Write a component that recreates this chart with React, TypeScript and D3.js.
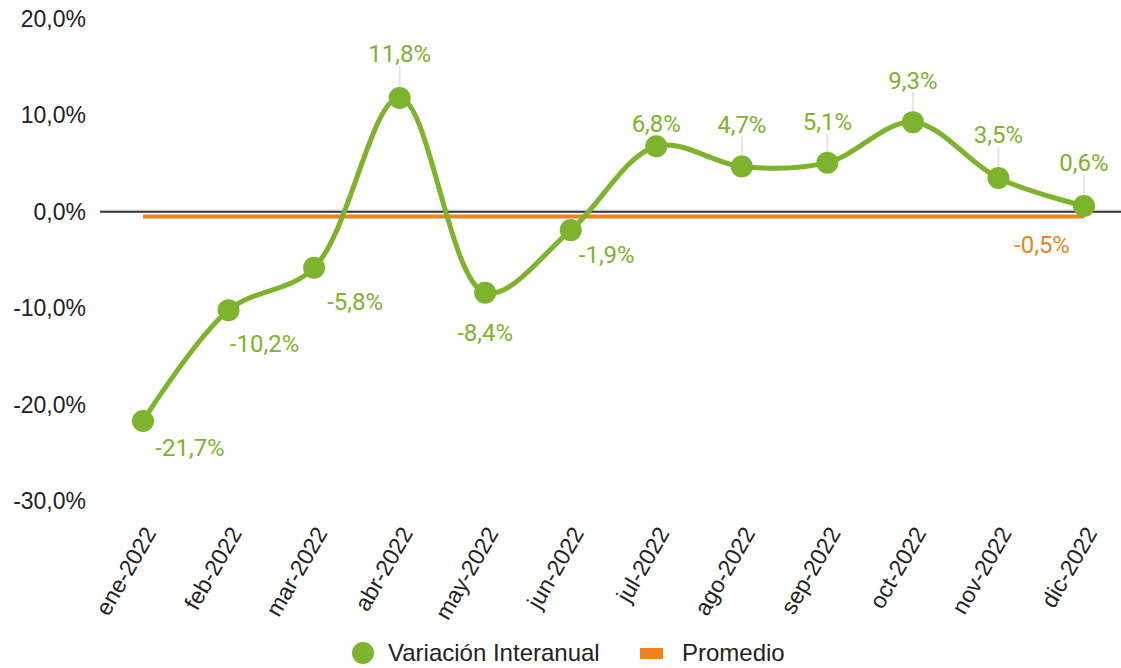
import { useEffect, useRef } from "react";
import * as d3 from "d3";

const months = [
  "ene-2022", "feb-2022", "mar-2022", "abr-2022", "may-2022", "jun-2022",
  "jul-2022", "ago-2022", "sep-2022", "oct-2022", "nov-2022", "dic-2022",
];
const variacion = [-21.7, -10.2, -5.8, 11.8, -8.4, -1.9, 6.8, 4.7, 5.1, 9.3, 3.5, 0.6];
const promedio = -0.5;
const yTicks = [20, 10, 0, -10, -20, -30];

// label nudges (px) for each point's value label
const labelDx = [47, 36, 41, 0, 0, 36, 0, 0, 0, 0, 0, 0];
const labelDy = [27, 33, 34, -44, 40, 24, -23, -42, -41, -42, -43, -43];

const GREEN = "#7db32d";
const ORANGE = "#f0821e";
const fmt = (v: number) => v.toFixed(1).replace(".", ",") + "%";

const App = () => {
  const ref = useRef<SVGSVGElement | null>(null);

  useEffect(() => {
    const width = 1121;
    const height = 668;
    const svg = d3.select(ref.current);
    svg.selectAll("*").remove();
    svg.attr("width", width).attr("height", height);

    const x = d3.scalePoint<string>().domain(months).range([143, 1084]);
    const y = d3.scaleLinear().domain([-30, 20]).range([501, 19]);

    const axisFont = "'Liberation Sans', Arial, sans-serif";
    const labelFont = "Roboto, sans-serif";

    const pts = variacion.map((v, i) => ({ v, i, m: months[i] }));

    // y axis labels
    svg.append("g")
      .selectAll("text")
      .data(yTicks)
      .join("text")
      .attr("x", 86)
      .attr("y", (d) => y(d))
      .attr("dy", "0.35em")
      .attr("text-anchor", "end")
      .attr("font-family", axisFont)
      .attr("font-size", 23)
      .attr("fill", "#222")
      .text((d) => fmt(d));

    // zero line
    svg.append("line")
      .attr("x1", 100).attr("x2", width)
      .attr("y1", y(0) - 2).attr("y2", y(0) - 2)
      .attr("stroke", "#e6e6e6").attr("stroke-width", 1);
    svg.append("line")
      .attr("x1", 100).attr("x2", width)
      .attr("y1", y(0)).attr("y2", y(0))
      .attr("stroke", "#333").attr("stroke-width", 2);

    // average line
    svg.append("line")
      .attr("x1", x(months[0])!).attr("x2", x(months[months.length - 1])!)
      .attr("y1", y(promedio)).attr("y2", y(promedio))
      .attr("stroke", ORANGE).attr("stroke-width", 4);

    // x labels
    svg.append("g")
      .selectAll("text")
      .data(months)
      .join("text")
      .attr("transform", (d) => `translate(${x(d)! + 14},533) rotate(-60)`)
      .attr("text-anchor", "end")
      .attr("font-family", axisFont)
      .attr("font-size", 23)
      .attr("fill", "#222")
      .text((d) => d);

    // leader lines (labels placed well above their point)
    svg.append("g")
      .selectAll("line")
      .data(pts.filter((p) => labelDy[p.i] < -30))
      .join("line")
      .attr("x1", (p) => x(p.m)!)
      .attr("x2", (p) => x(p.m)!)
      .attr("y1", (p) => y(p.v) + labelDy[p.i] + 12)
      .attr("y2", (p) => y(p.v))
      .attr("stroke", "#e6e6e6")
      .attr("stroke-width", 2);

    // line
    const line = d3.line<{ v: number; m: string }>()
      .x((p) => x(p.m)!)
      .y((p) => y(p.v))
      .curve(d3.curveCatmullRom.alpha(0.5));
    svg.append("path")
      .datum(pts)
      .attr("d", line)
      .attr("fill", "none")
      .attr("stroke", GREEN)
      .attr("stroke-width", 5);

    // points
    svg.append("g")
      .selectAll("circle")
      .data(pts)
      .join("circle")
      .attr("cx", (p) => x(p.m)!)
      .attr("cy", (p) => y(p.v))
      .attr("r", 11)
      .attr("fill", GREEN);

    // value labels
    svg.append("g")
      .selectAll("text")
      .data(pts)
      .join("text")
      .attr("x", (p) => x(p.m)! + labelDx[p.i])
      .attr("y", (p) => y(p.v) + labelDy[p.i])
      .attr("dy", "0.35em")
      .attr("text-anchor", "middle")
      .attr("font-family", labelFont)
      .attr("font-size", 24)
      .attr("fill", GREEN)
      .text((p) => fmt(p.v));

    // average label
    svg.append("text")
      .attr("x", x(months[months.length - 1])! - 42)
      .attr("y", y(promedio) + 28)
      .attr("dy", "0.35em")
      .attr("text-anchor", "middle")
      .attr("font-family", labelFont)
      .attr("font-size", 24)
      .attr("fill", ORANGE)
      .text(fmt(promedio));

    // legend
    const lg = svg.append("g").attr("font-family", axisFont).attr("font-size", 24).attr("fill", "#222");
    lg.append("circle").attr("cx", 363).attr("cy", 653).attr("r", 11).attr("fill", GREEN);
    lg.append("text").attr("x", 388).attr("y", 653).attr("dy", "0.35em").text("Variación Interanual");
    lg.append("rect").attr("x", 640).attr("y", 648).attr("width", 23).attr("height", 11).attr("fill", ORANGE);
    lg.append("text").attr("x", 682).attr("y", 653).attr("dy", "0.35em").text("Promedio");
  }, []);

  return <svg ref={ref} style={{ position: "absolute", left: 0, top: 0 }} />;
};

export default App;
